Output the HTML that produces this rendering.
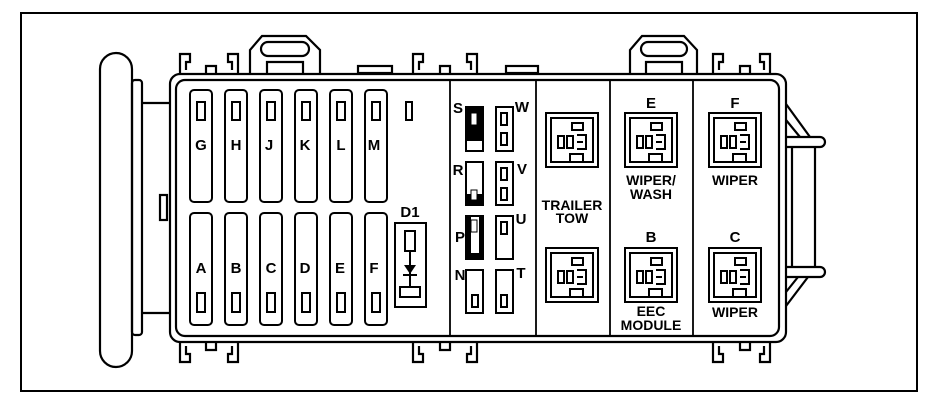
<!DOCTYPE html>
<html><head><style>
html,body{margin:0;padding:0;background:#fff;}
svg{display:block;}
text{font-family:"Liberation Sans",Arial,sans-serif;font-weight:bold;fill:#000;}
</style></head><body>
<svg width="938" height="405" viewBox="0 0 938 405" xmlns="http://www.w3.org/2000/svg">
<rect x="0" y="0" width="938" height="405" fill="#fff"/>
<rect x="21" y="13" width="896" height="378" fill="none" stroke="#000" stroke-width="2"/>
<g fill="none" stroke="#000" stroke-width="2.2">
<!-- left cylinder -->
<rect x="100" y="53" width="32" height="314" rx="16"/>
<rect x="132" y="80" width="10" height="255" rx="3"/>
<line x1="142" y1="103" x2="170" y2="103"/>
<line x1="142" y1="313" x2="170" y2="313"/>
<rect x="160" y="195" width="7" height="25"/>
<!-- top clips -->
<path d="M180 74 V54 H190 V62 H186 V70 M206 74 V66 H216 V74 M238 74 V54 H228 V62 H232 V70"/>
<path d="M413 74 V54 H423 V62 H419 V70 M440 74 V66 H450 V74 M477 74 V54 H467 V62 H471 V70"/>
<path d="M713 74 V54 H723 V62 H719 V70 M740 74 V66 H750 V74 M770 74 V54 H760 V62 H764 V70"/>
<path d="M250 73 V50 L262 36 H306 L320 50 V73"/>
<rect x="261" y="42" width="48" height="14" rx="7"/>
<path d="M267 73 V62 H303 V73"/>
<path d="M630 73 V50 L642 36 H684 L697 50 V73"/>
<rect x="641" y="42" width="46" height="14" rx="7"/>
<path d="M646 73 V62 H682 V73"/>
<rect x="358" y="66" width="34" height="7"/>
<rect x="506" y="66" width="32" height="7"/>
<!-- bottom clips -->
<path d="M180 342 V362 H190 V354 H186 V346 M206 342 V350 H216 V342 M238 342 V362 H228 V354 H232 V346"/>
<path d="M413 342 V362 H423 V354 H419 V346 M440 342 V350 H450 V342 M477 342 V362 H467 V354 H471 V346"/>
<path d="M713 342 V362 H723 V354 H719 V346 M740 342 V350 H750 V342 M770 342 V362 H760 V354 H764 V346"/>
<!-- housing -->
<rect x="170" y="74" width="616" height="268" rx="10"/>
<rect x="176" y="80" width="603" height="256" rx="9"/>
<!-- right bracket -->
<path d="M786 137 H820 A5 5 0 0 1 820 147 H786"/>
<path d="M786 267 H820 A5 5 0 0 1 820 277 H786"/>
<line x1="792" y1="147" x2="792" y2="267"/>
<line x1="815" y1="147" x2="815" y2="267"/>
<path d="M786 104 L810 137 M786 120 L800 137"/>
<path d="M786 306 L808 277 M786 292 L798 277"/>
</g>
<g fill="none" stroke="#000" stroke-width="1.8">
<line x1="450" y1="80" x2="450" y2="336"/>
<line x1="536" y1="80" x2="536" y2="336"/>
<line x1="610" y1="80" x2="610" y2="336"/>
<line x1="693" y1="80" x2="693" y2="336"/>
</g>
<g fill="none" stroke="#000" stroke-width="2">
<!-- fuses -->
<rect x="190" y="90" width="22" height="112" rx="4"/>
<rect x="225" y="90" width="22" height="112" rx="4"/>
<rect x="260" y="90" width="22" height="112" rx="4"/>
<rect x="295" y="90" width="22" height="112" rx="4"/>
<rect x="330" y="90" width="22" height="112" rx="4"/>
<rect x="365" y="90" width="22" height="112" rx="4"/>
<rect x="190" y="213" width="22" height="112" rx="4"/>
<rect x="225" y="213" width="22" height="112" rx="4"/>
<rect x="260" y="213" width="22" height="112" rx="4"/>
<rect x="295" y="213" width="22" height="112" rx="4"/>
<rect x="330" y="213" width="22" height="112" rx="4"/>
<rect x="365" y="213" width="22" height="112" rx="4"/>
<g>
<rect x="197" y="102" width="8" height="18"/><rect x="232" y="102" width="8" height="18"/><rect x="267" y="102" width="8" height="18"/><rect x="302" y="102" width="8" height="18"/><rect x="337" y="102" width="8" height="18"/><rect x="372" y="102" width="8" height="18"/>
<rect x="197" y="293" width="8" height="19"/><rect x="232" y="293" width="8" height="19"/><rect x="267" y="293" width="8" height="19"/><rect x="302" y="293" width="8" height="19"/><rect x="337" y="293" width="8" height="19"/><rect x="372" y="293" width="8" height="19"/>
<rect x="406" y="102" width="6" height="18"/>
</g>
<!-- D1 -->
<rect x="395" y="223" width="31" height="84"/>
<rect x="405" y="231" width="10" height="20"/>
<line x1="410" y1="251" x2="410" y2="287"/>
<rect x="400" y="287" width="20" height="10"/>
<!-- small fuses -->
<rect x="466" y="107" width="17" height="44"/>
<rect x="496" y="107" width="17" height="44"/>
<rect x="466" y="162" width="17" height="43"/>
<rect x="496" y="162" width="17" height="43"/>
<rect x="466" y="216" width="17" height="43"/>
<rect x="496" y="216" width="17" height="43"/>
<rect x="466" y="270" width="17" height="43"/>
<rect x="496" y="270" width="17" height="43"/>
<rect x="501" y="113" width="6" height="12"/><rect x="501" y="133" width="6" height="12"/>
<rect x="501" y="168" width="6" height="12"/><rect x="501" y="188" width="6" height="12"/>
<rect x="501" y="222" width="6" height="12"/>
<rect x="501" y="295" width="6" height="12"/>
<rect x="472" y="295" width="6" height="12"/>
</g>
<!-- dark fuse details -->
<rect x="467" y="108" width="15" height="33" fill="#000"/>
<rect x="471" y="113" width="6" height="12" fill="#fff" stroke="#000"/>
<rect x="467" y="194" width="15" height="10" fill="#000"/>
<rect x="471" y="190" width="6" height="10" fill="#fff" stroke="#000"/>
<rect x="467" y="217" width="4" height="42" fill="#000"/>
<rect x="479" y="217" width="4" height="42" fill="#000"/>
<rect x="467" y="253" width="16" height="6" fill="#000"/>
<rect x="471" y="220" width="6" height="12" fill="#fff" stroke="#000"/>
<polygon points="404,265 416,265 410,274" fill="#000"/>
<line x1="403" y1="275" x2="417" y2="275" stroke="#000" stroke-width="2"/>
<!-- relays -->
<defs>
<g id="relay" fill="none" stroke="#000" stroke-width="2">
<rect x="0" y="0" width="52" height="54"/>
<rect x="5" y="5" width="42" height="44"/>
<rect x="26" y="10" width="11" height="7"/>
<rect x="12" y="23" width="6" height="12"/>
<rect x="21" y="23" width="6" height="12"/>
<path d="M31 22 H40 V36 H31"/>
<line x1="31" y1="29" x2="37" y2="29"/>
<rect x="24" y="41" width="13" height="8"/>
</g>
</defs>
<use href="#relay" x="546" y="113"/>
<use href="#relay" x="625" y="113"/>
<use href="#relay" x="709" y="113"/>
<use href="#relay" x="546" y="248"/>
<use href="#relay" x="625" y="248"/>
<use href="#relay" x="709" y="248"/>
<!-- labels -->
<g font-size="15" text-anchor="middle">
<text x="201" y="150">G</text><text x="236" y="150">H</text><text x="269" y="150">J</text><text x="305" y="150">K</text><text x="341" y="150">L</text><text x="374" y="150">M</text>
<text x="201" y="273">A</text><text x="236" y="273">B</text><text x="271" y="273">C</text><text x="305" y="273">D</text><text x="340" y="273">E</text><text x="374" y="273">F</text>
<text x="410" y="217">D1</text>
<text x="458" y="113">S</text><text x="522" y="112">W</text>
<text x="458" y="175">R</text><text x="522" y="174">V</text>
<text x="460" y="242">P</text><text x="521" y="224">U</text>
<text x="460" y="280">N</text><text x="521" y="278">T</text>
<text x="651" y="108">E</text><text x="735" y="108">F</text>
<text x="651" y="242">B</text><text x="735" y="242">C</text>
</g>
<g font-size="14" text-anchor="middle">
<text x="572" y="210">TRAILER</text><text x="572" y="223">TOW</text>
<text x="651" y="185">WIPER/</text><text x="651" y="199">WASH</text>
<text x="735" y="185">WIPER</text>
<text x="651" y="316">EEC</text><text x="651" y="330">MODULE</text>
<text x="735" y="317">WIPER</text>
</g>
</svg>
</body></html>
